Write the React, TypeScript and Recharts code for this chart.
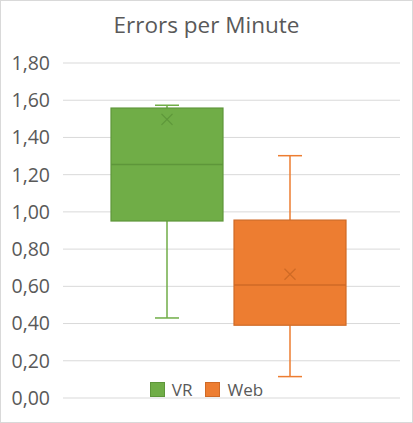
import { BarChart, Bar, XAxis, YAxis, CartesianGrid } from "recharts";

const seriesNames = ["VR", "Web"];
const seriesColors = ["#70AD47", "#ED7D31"];
const seriesDark = ["#5E963A", "#CF6A26"];
const minValues = [0.43, 0.115];
const q1Values = [0.951, 0.391];
const medianValues = [1.255, 0.607];
const q3Values = [1.558, 0.956];
const maxValues = [1.573, 1.302];
const meanValues = [1.497, 0.665];
const yTicks = [0, 0.2, 0.4, 0.6, 0.8, 1.0, 1.2, 1.4, 1.6, 1.8];

const FONT = "'Open Sans', 'Noto Sans', sans-serif";

// one category, each series holds its whisker range [min, max]
const data = [
  seriesNames.reduce(
    (row, name, i) => ({ ...row, [name]: [minValues[i], maxValues[i]] }),
    { category: "" } as Record<string, unknown>
  ),
];

const makeBoxShape = (i: number) => (props: any) => {
  const { x, y, width, height } = props;
  const min = minValues[i];
  const max = maxValues[i];
  const k = height / (max - min);
  const py = (v: number) => y + (max - v) * k;
  const cx = x + width / 2;
  const capHalf = 12;
  const markHalf = 5.5;
  const color = seriesColors[i];
  const dark = seriesDark[i];
  const my = py(meanValues[i]);
  return (
    <g>
      <line x1={cx} x2={cx} y1={py(max)} y2={py(q3Values[i])} stroke={color} strokeWidth={1.5} />
      <line x1={cx} x2={cx} y1={py(q1Values[i])} y2={py(min)} stroke={color} strokeWidth={1.5} />
      <line x1={cx - capHalf} x2={cx + capHalf} y1={py(max)} y2={py(max)} stroke={color} strokeWidth={1.5} />
      <line x1={cx - capHalf} x2={cx + capHalf} y1={py(min)} y2={py(min)} stroke={color} strokeWidth={1.5} />
      <rect
        x={x}
        y={py(q3Values[i])}
        width={width}
        height={py(q1Values[i]) - py(q3Values[i])}
        fill={color}
        stroke={dark}
        strokeWidth={1.2}
      />
      <line x1={x} x2={x + width} y1={py(medianValues[i])} y2={py(medianValues[i])} stroke={dark} strokeWidth={1.5} />
      <line x1={cx - markHalf} x2={cx + markHalf} y1={my - markHalf} y2={my + markHalf} stroke={dark} strokeWidth={1.3} />
      <line x1={cx - markHalf} x2={cx + markHalf} y1={my + markHalf} y2={my - markHalf} stroke={dark} strokeWidth={1.3} />
    </g>
  );
};

const LegendBox = () => (
  <div
    style={{
      position: "absolute",
      top: 378,
      left: 0,
      width: 413,
      display: "flex",
      justifyContent: "center",
      gap: 13,
      fontFamily: FONT,
      fontSize: 17,
      color: "#595959",
    }}
  >
    {seriesNames.map((name, i) => (
      <div key={name} style={{ display: "flex", alignItems: "center", gap: 7 }}>
        <span
          style={{
            display: "inline-block",
            width: 13,
            height: 13,
            background: seriesColors[i],
            border: `1px solid ${seriesDark[i]}`,
          }}
        />
        <span>{name}</span>
      </div>
    ))}
  </div>
);

export default function App() {
  return (
    <div style={{ position: "relative", width: 413, height: 423, background: "#fff" }}>
      <style>{`body{margin:0}`}</style>
      <div
        style={{
          position: "absolute",
          inset: 0,
          border: "1px solid #D9D9D9",
          boxSizing: "border-box",
          pointerEvents: "none",
        }}
      />
      <div
        style={{
          position: "absolute",
          top: 9,
          left: 0,
          width: 413,
          textAlign: "center",
          fontFamily: FONT,
          fontSize: 22.5,
          color: "#595959",
        }}
      >
        Errors per Minute
      </div>
      <BarChart
        width={413}
        height={423}
        data={data}
        margin={{ top: 63, right: 13, bottom: 25, left: 0 }}
        barSize={112}
        barGap={11}
      >
        <CartesianGrid vertical={false} stroke="#D9D9D9" />
        <XAxis dataKey="category" hide padding={{ left: 0, right: 7 }} />
        <YAxis
          width={63}
          domain={[0, 1.8]}
          ticks={yTicks}
          interval={0}
          axisLine={false}
          tickLine={false}
          tickSize={0}
          tickMargin={13}
          tickFormatter={(v: number) => v.toFixed(2).replace(".", ",")}
          tick={{ fill: "#595959", fontSize: 19.5, fontFamily: FONT }}
        />
        {seriesNames.map((name, i) => (
          <Bar
            key={name}
            dataKey={name}
            fill={seriesColors[i]}
            shape={makeBoxShape(i)}
            isAnimationActive={false}
          />
        ))}
      </BarChart>
      <LegendBox />
    </div>
  );
}
